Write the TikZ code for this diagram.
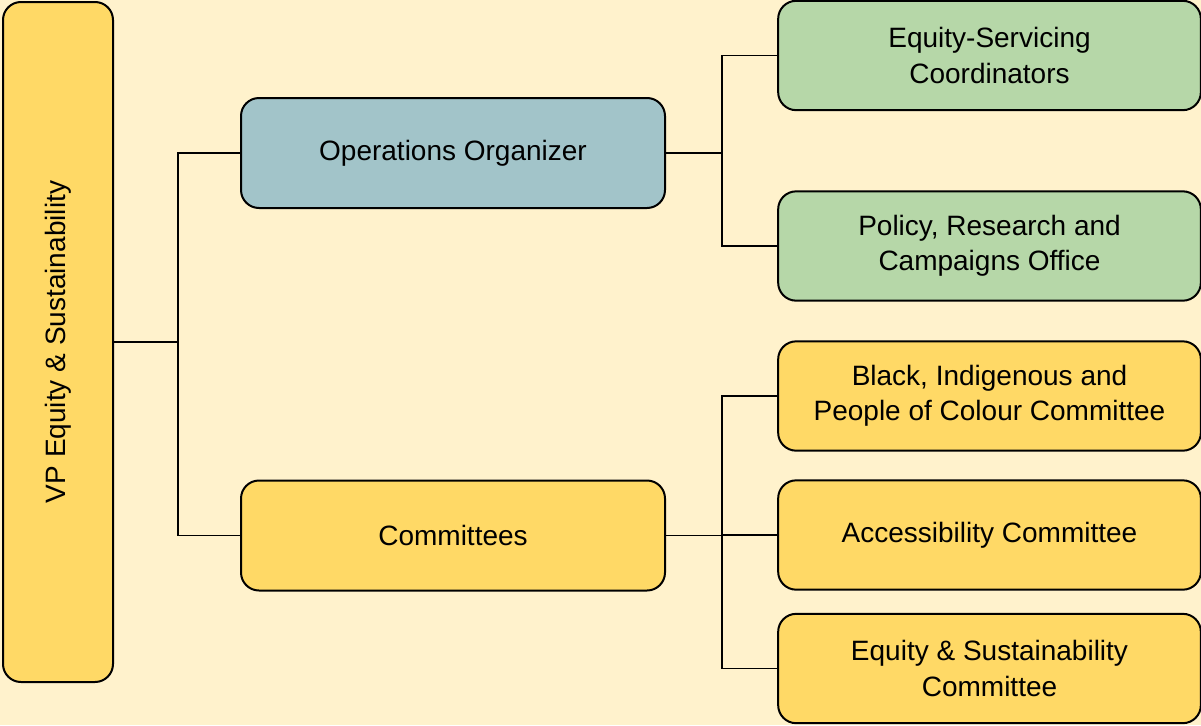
\documentclass[tikz,border=0pt]{standalone}
\usepackage{fontspec}
\setmainfont{Liberation Sans}
\usepackage{graphicx}
\definecolor{bgcream}{HTML}{FFF2CC}
\definecolor{vpyellow}{HTML}{FFD966}
\definecolor{opsblue}{HTML}{A2C4C9}
\definecolor{unitgreen}{HTML}{B6D7A8}

\begin{document}
\begin{tikzpicture}[x=0.75pt, y=-0.75pt,
    box/.style={draw, line width=1.5pt, rounded corners=13.5pt, align=center, inner sep=0pt,
      font=\fontsize{21}{26.5}\selectfont},
    midbox/.style={box, minimum width=318pt, minimum height=82.5pt},
    sidebox/.style={box, minimum width=317pt, minimum height=82pt},
    link/.style={line width=1.1pt}]
      \useasboundingbox (0,0) rectangle (1201,725);
      \fill[bgcream] (0,0) rectangle (1201,725);

      \node[box, fill=vpyellow, minimum width=82.5pt, minimum height=510pt] (vp) at (58,342) {\rotatebox{90}{VP Equity \& Sustainability}};

      \node[midbox, fill=opsblue] (ops) at (453,153) {Operations Organizer};
      \node[midbox, fill=vpyellow] (com) at (453,535.5) {Committees};

      \node[sidebox, fill=unitgreen] (esc) at (989.5,55.5) {Equity-Servicing\\Coordinators};
      \node[sidebox, fill=unitgreen] (prc) at (989.5,246) {Policy, Research and\\Campaigns Office};
      \node[sidebox, fill=vpyellow] (bipoc) at (989.5,396) {Black, Indigenous and\\People of Colour Committee};
      \node[sidebox, fill=vpyellow] (acc) at (989.5,535) {Accessibility Committee};
      \node[sidebox, fill=vpyellow] (esus) at (989.5,668.5) {Equity \& Sustainability\\Committee};

      \draw[link] (vp.east) -- ++(64,0) coordinate (j1);
      \draw[link] (j1) |- (ops.west);
      \draw[link] (j1) |- (com.west);

      \draw[link] (ops.east) -- ++(56,0) coordinate (j2);
      \draw[link] (j2) |- (esc.west);
      \draw[link] (j2) |- (prc.west);

      \draw[link] (com.east) -- ++(56,0) coordinate (j3);
      \draw[link] (j3) |- (bipoc.west);
      \draw[link] (j3) |- (acc.west);
      \draw[link] (j3) |- (esus.west);
\end{tikzpicture}
\end{document}
